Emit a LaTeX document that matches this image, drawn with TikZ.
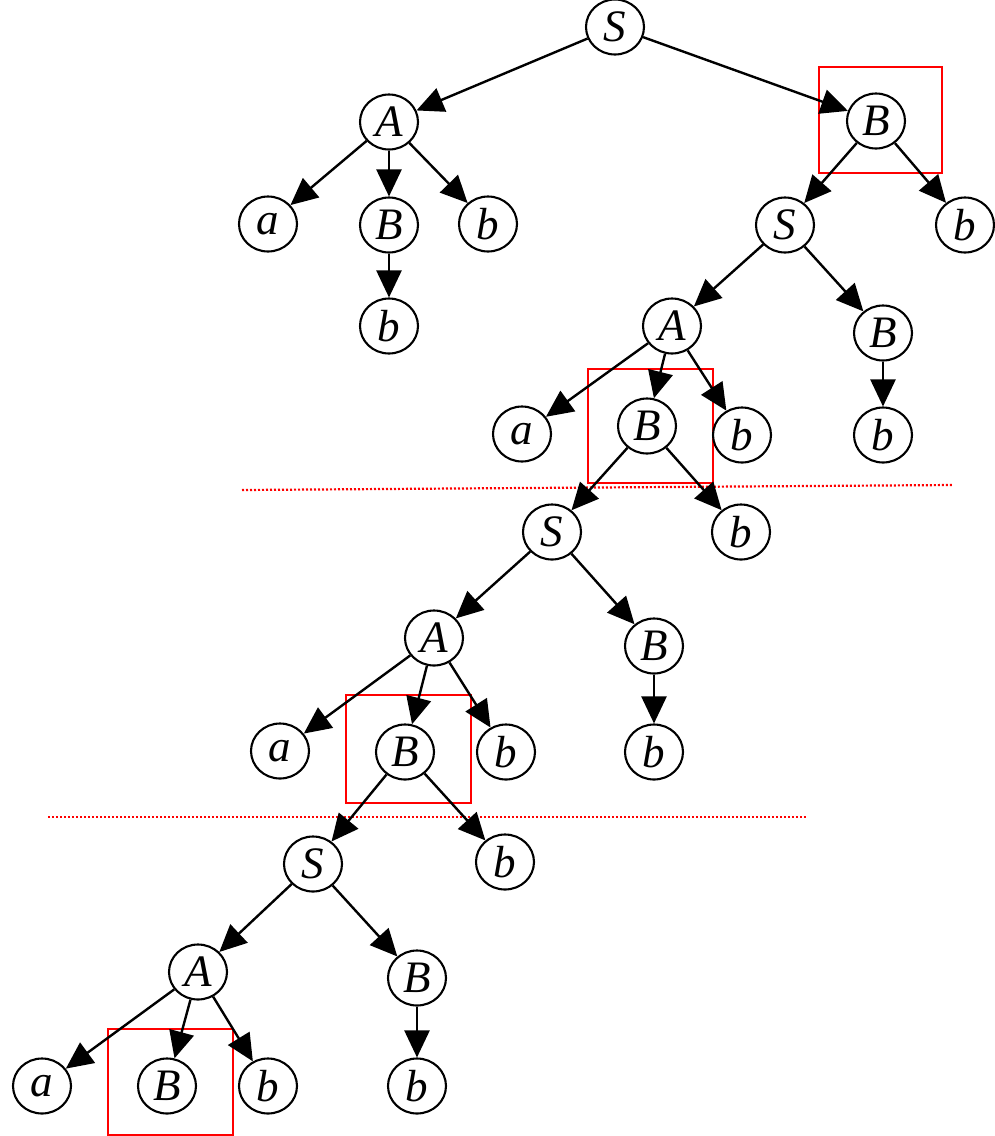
\documentclass[tikz,border=0pt]{standalone}
\usepackage{fontspec}
\setmainfont{Liberation Serif}
\usetikzlibrary{shapes.geometric,arrows.meta}
\begin{document}
\begin{tikzpicture}[x=1pt,y=-1pt,
  nd/.style={ellipse,draw,line width=2.1pt,minimum width=58pt,minimum height=55pt,inner sep=0pt,font=\itshape\fontsize{45}{45}\selectfont},
  ed/.style={line width=2.4pt,-{Triangle[length=27pt,width=25pt]}},
  hl/.style={draw=red,line width=2.2pt},
  sep/.style={draw=red,line width=2.2pt,dash pattern=on 2pt off 2pt}]
\useasboundingbox (0,0) rectangle (994,1136);
% separators and highlight boxes
\draw[sep] (242,490) coordinate (l1a) -- (952,485) coordinate (l1b);
\draw[sep] (48,817) coordinate (l2a) -- (806,817) coordinate (l2b);
\draw[hl] (819,67) rectangle (942,173);
\draw[hl] (588,369) rectangle (713,483);
\draw[hl] (346,695) rectangle (471,803);
\draw[hl] (108,1029) rectangle (233,1135);
% nodes
\node[nd] (S0) at (615,27) {S};
\node[nd] (A1) at (389,122) {A};
\node[nd] (B1) at (876,121) {B};
\node[nd] (a1) at (268,224) {a};
\node[nd] (B1a) at (389,225) {B};
\node[nd] (b1) at (488,224) {b};
\node[nd] (b1b) at (389,326) {b};
\node[nd] (S2) at (785,225) {S};
\node[nd] (b2) at (965,225) {b};
\node[nd] (A2) at (672,326) {A};
\node[nd] (B2) at (883,333) {B};
\node[nd] (a2) at (522,434) {a};
\node[nd] (B2a) at (647,426) {B};
\node[nd] (b3) at (742,435) {b};
\node[nd] (b4) at (883,435) {b};
\node[nd] (S3) at (552,532) {S};
\node[nd] (b5) at (741,532) {b};
\node[nd] (A3) at (434,638) {A};
\node[nd] (B3) at (654,646) {B};
\node[nd] (a3) at (280,751) {a};
\node[nd] (B3a) at (405,752) {B};
\node[nd] (b6) at (506,752) {b};
\node[nd] (b7) at (654,752) {b};
\node[nd] (S4) at (313,864) {S};
\node[nd] (b8) at (505,862) {b};
\node[nd] (A4) at (198,972) {A};
\node[nd] (B4) at (417,978) {B};
\node[nd] (a4) at (42,1086) {a};
\node[nd] (B4a) at (167,1086) {B};
\node[nd] (b9) at (268,1086) {b};
\node[nd] (b10) at (417,1086) {b};
% edges
\draw[ed] (S0) -- (A1);
\draw[ed] (S0) -- (B1);
\draw[ed] (A1) -- (a1);
\draw[ed] (A1) -- (B1a);
\draw[ed] (A1) -- (b1);
\draw[ed] (B1a) -- (b1b);
\draw[ed] (B1) -- (S2);
\draw[ed] (B1) -- (b2);
\draw[ed] (S2) -- (A2);
\draw[ed] (S2) -- (B2);
\draw[ed] (A2) -- (a2);
\draw[ed] (A2) -- (B2a);
\draw[ed] (A2) -- (b3);
\draw[ed] (B2) -- (b4);
\draw[ed] (B2a) -- (S3);
\draw[ed] (B2a) -- (b5);
\draw[ed] (S3) -- (A3);
\draw[ed] (S3) -- (B3);
\draw[ed] (A3) -- (a3);
\draw[ed] (A3) -- (B3a);
\draw[ed] (A3) -- (b6);
\draw[ed] (B3) -- (b7);
\draw[ed] (B3a) -- (S4);
\draw[ed] (B3a) -- (b8);
\draw[ed] (S4) -- (A4);
\draw[ed] (S4) -- (B4);
\draw[ed] (A4) -- (a4);
\draw[ed] (A4) -- (B4a);
\draw[ed] (A4) -- (b9);
\draw[ed] (B4) -- (b10);
\end{tikzpicture}
\end{document}
